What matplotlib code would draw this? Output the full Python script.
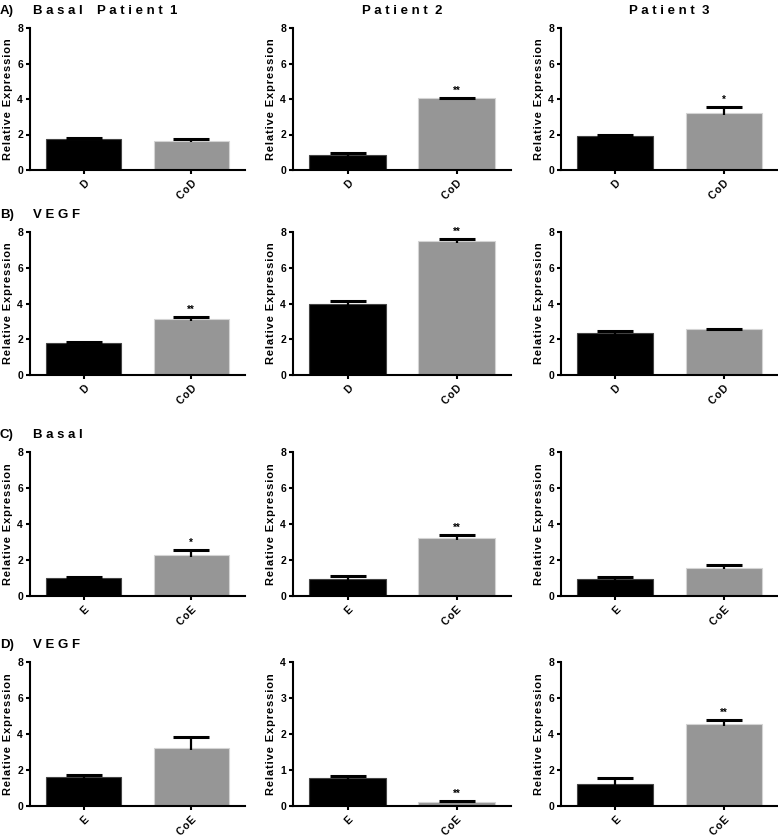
import numpy as np
import matplotlib
matplotlib.use("Agg")
import matplotlib.pyplot as plt

plt.rcParams['font.family'] = ['Liberation Sans', 'DejaVu Sans']
plt.rcParams['font.weight'] = 'bold'

# panel rows and columns
row_tags = ["A)", "B)", "C)", "D)"]
row_titles = ["B a s a l", "V E G F", "B a s a l", "V E G F"]
patients = ["P a t i e n t  1", "P a t i e n t  2", "P a t i e n t  3"]
row_cats = [["D", "CoD"], ["D", "CoD"], ["E", "CoE"], ["E", "CoE"]]
ylabel = "Relative Expression"

# bar values (control / co-culture) for patient 1..3
ctrl_mean = [[1.75, 0.83, 1.94],
             [1.78, 3.96, 2.36],
             [1.02, 0.93, 0.97],
             [1.62, 0.77, 1.24]]
ctrl_err = [[0.08, 0.14, 0.04],
            [0.09, 0.19, 0.10],
            [0.04, 0.16, 0.09],
            [0.13, 0.07, 0.33]]
co_mean = [[1.65, 4.03, 3.20],
           [3.12, 7.48, 2.57],
           [2.26, 3.22, 1.58],
           [3.20, 0.10, 4.57]]
co_err = [[0.09, 0.05, 0.35],
          [0.11, 0.15, 0.03],
          [0.28, 0.15, 0.17],
          [0.61, 0.03, 0.20]]
stars = [["", "**", "*"],
         ["**", "**", ""],
         ["*", "**", ""],
         ["", "**", "**"]]
ymax = [[8, 8, 8], [8, 8, 8], [8, 8, 8], [8, 4, 8]]


def spaced(s):
    # widen letter spacing a little, like the exported figure
    return "\u200a".join(s)


W, H = 778, 839
fig = plt.figure(figsize=(W / 100, H / 100), dpi=100)

col_px = [(30, 245), (293, 511), (561, 778)]
row_px = [(28, 170), (232, 375), (452, 596), (662, 806)]

for r in range(4):
    top, bot = row_px[r]
    for c in range(3):
        l, rr = col_px[c]
        ax = fig.add_axes([l / W, 1 - bot / H, (rr - l) / W, (bot - top) / H])
        vals = [ctrl_mean[r][c], co_mean[r][c]]
        errs = [ctrl_err[r][c], co_err[r][c]]
        x = np.arange(2)
        ax.bar(x, vals, width=0.7, color=['black', '#969696'],
               edgecolor=['#444444', '#d4d4d4'], linewidth=0.8, zorder=2)
        lower = [min(e, 0.1 * ymax[r][c] / 8) for e in errs]
        eb = ax.errorbar(x, vals, yerr=[lower, errs], fmt='none', ecolor='black',
                         elinewidth=1.6, capsize=13, capthick=2.2, zorder=3)
        eb[1][0].set_visible(False)  # no cap on the lower end
        if stars[r][c]:
            ax.text(1, vals[1] + errs[1] + 0.015 * ymax[r][c], stars[r][c],
                    ha='center', va='bottom', fontsize=7)
        ax.set_xlim(-0.5, 1.5)
        ax.set_ylim(0, ymax[r][c])
        ax.set_yticks(np.arange(0, ymax[r][c] + 1, ymax[r][c] // 4))
        ax.set_xticks(x)
        ax.set_xticklabels([spaced(t) for t in row_cats[r]], rotation=45,
                           ha='right', rotation_mode='anchor')
        for s in ['top', 'right']:
            ax.spines[s].set_visible(False)
        for s in ['left', 'bottom']:
            ax.spines[s].set_linewidth(1.5)
        ax.tick_params(direction='out', length=3, width=1.5, labelsize=7.5, pad=2)
        ax.tick_params(axis='x', pad=3)
        ax.set_ylabel(spaced(ylabel), fontsize=8, fontweight='bold', labelpad=3)

    # row tag and title
    ty = 1 - (top - 17) / H
    fig.text(0.0, ty, row_tags[r], fontsize=9.5, fontweight='bold', va='center')
    fig.text(33 / W, ty, row_titles[r], fontsize=9.5, fontweight='bold', va='center')

for c in range(3):
    l, rr = col_px[c]
    fig.text((l + rr) / 2 / W, 1 - 11 / H, patients[c], fontsize=9.5,
             fontweight='bold', ha='center', va='center')

fig.savefig("out.png", dpi=100)
